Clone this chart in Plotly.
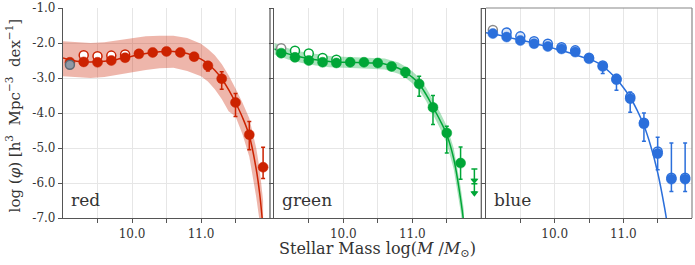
import plotly.graph_objects as go

# ---------------- data ----------------
mass_bins = [9.1, 9.3, 9.5, 9.7, 9.9, 10.1, 10.3, 10.5, 10.7, 10.9, 11.1, 11.3, 11.5, 11.7, 11.9]

# red
red_phi = [-2.55, -2.54, -2.55, -2.50, -2.42, -2.31, -2.27, -2.24, -2.27, -2.39, -2.65, -3.02, -3.70, -4.62, -5.55]
red_err_plus = [0.03, 0.03, 0.03, 0.03, 0.03, 0.03, 0.03, 0.03, 0.04, 0.05, 0.10, 0.20, 0.26, 0.38, 0.57]
red_err_minus = [0.03, 0.03, 0.03, 0.03, 0.03, 0.03, 0.03, 0.03, 0.04, 0.06, 0.15, 0.30, 0.40, 0.43, 0.32]
red_open_x = [9.3, 9.5, 9.7, 9.9]
red_open_phi = [-2.35, -2.38, -2.36, -2.33]
red_fit_x = [9.0, 9.2, 9.4, 9.6, 9.8, 10.0, 10.2, 10.4, 10.6, 10.8, 11.0, 11.1, 11.2, 11.3, 11.4, 11.5, 11.6, 11.7, 11.8, 11.85, 11.9]
red_fit = [-2.43, -2.52, -2.54, -2.52, -2.46, -2.38, -2.30, -2.25, -2.24, -2.30, -2.46, -2.60, -2.78, -3.02, -3.33, -3.70, -4.12, -4.65, -5.60, -6.30, -7.30]
red_fit_hi = [-1.95, -1.98, -2.00, -1.98, -1.93, -1.86, -1.81, -1.79, -1.79, -1.86, -2.02, -2.17, -2.35, -2.60, -2.92, -3.30, -3.70, -4.15, -5.00, -5.60, -6.50]
red_fit_lo = [-2.95, -2.98, -3.00, -2.97, -2.92, -2.84, -2.77, -2.72, -2.71, -2.80, -2.95, -3.10, -3.32, -3.60, -3.95, -4.10, -4.60, -5.25, -6.40, -7.10, -8.20]

# green
green_x = [9.1, 9.3, 9.5, 9.7, 9.9, 10.1, 10.3, 10.5, 10.7, 10.9, 11.1, 11.3, 11.5, 11.7]
green_phi = [-2.29, -2.41, -2.50, -2.55, -2.57, -2.55, -2.55, -2.57, -2.67, -2.83, -3.17, -3.84, -4.57, -5.43]
green_err_plus = [0.02, 0.02, 0.02, 0.02, 0.02, 0.02, 0.02, 0.02, 0.03, 0.06, 0.22, 0.34, 0.19, 0.46]
green_err_minus = [0.02, 0.02, 0.02, 0.02, 0.02, 0.02, 0.02, 0.03, 0.05, 0.15, 0.35, 0.49, 0.57, 0.46]
green_open_x = [9.3, 9.5, 9.7, 9.9]
green_open_phi = [-2.22, -2.30, -2.43, -2.48]
green_limit_x = [11.9, 11.9]
green_limit_top = [-5.60, -6.02]
green_limit_len = [0.30, 0.24]
green_limit_arrow = [-5.93, -6.29]
green_fit_x = [9.0, 9.2, 9.4, 9.6, 9.8, 10.0, 10.2, 10.4, 10.6, 10.8, 10.9, 11.0, 11.1, 11.2, 11.3, 11.4, 11.5, 11.6, 11.7, 11.75]
green_fit = [-2.17, -2.31, -2.41, -2.48, -2.53, -2.55, -2.56, -2.57, -2.60, -2.72, -2.83, -2.98, -3.17, -3.47, -3.83, -4.20, -4.62, -5.30, -6.45, -7.20]
green_fit_hi = [-2.00, -2.15, -2.25, -2.32, -2.37, -2.39, -2.40, -2.41, -2.44, -2.56, -2.67, -2.81, -2.99, -3.28, -3.62, -3.97, -4.37, -5.00, -6.10, -6.80]
green_fit_lo = [-2.33, -2.47, -2.57, -2.64, -2.69, -2.71, -2.72, -2.73, -2.76, -2.88, -2.99, -3.15, -3.35, -3.66, -4.04, -4.43, -4.87, -5.60, -6.80, -7.60]

# blue
blue_phi = [-1.73, -1.83, -1.93, -2.02, -2.10, -2.17, -2.26, -2.45, -2.67, -3.05, -3.59, -4.31, -5.16, -5.89, -5.89]
blue_err_plus = [0.02, 0.02, 0.02, 0.02, 0.02, 0.02, 0.03, 0.03, 0.07, 0.15, 0.19, 0.31, 0.47, 1.03, 1.03]
blue_err_minus = [0.02, 0.02, 0.02, 0.02, 0.02, 0.02, 0.03, 0.04, 0.20, 0.30, 0.39, 0.50, 0.46, 0.35, 0.35]
blue_open_x = [9.3, 9.5, 9.7, 9.9, 10.1, 10.3, 10.5, 10.7, 10.9, 11.1, 11.3, 11.5, 11.7, 11.9]
blue_open_phi = [-1.70, -1.81, -1.95, -2.02, -2.12, -2.21, -2.42, -2.64, -3.02, -3.54, -4.28, -5.10, -5.85, -5.85]
blue_fit_x = [9.0, 9.2, 9.4, 9.6, 9.8, 10.0, 10.2, 10.4, 10.6, 10.7, 10.8, 10.9, 11.0, 11.1, 11.2, 11.3, 11.4, 11.5, 11.6, 11.65]
blue_fit = [-1.71, -1.78, -1.87, -1.96, -2.06, -2.16, -2.27, -2.40, -2.54, -2.66, -2.83, -3.03, -3.27, -3.55, -3.92, -4.36, -4.95, -5.70, -6.70, -7.30]

# grey (excluded) lowest-mass points
grey_x = [9.1]
grey_red = [-2.62]
grey_green = [-2.15]
grey_blue = [-1.63]

panel_names = ["red", "green", "blue"]
y_ticks = [-1, -2, -3, -4, -5, -6, -7]
y_tick_text = ["-1.0", "-2.0", "-3.0", "-4.0", "-5.0", "-6.0", "-7.0"]
x_ticks = [10.0, 11.0]
x_tick_text = ["10.0", "11.0"]
x_minor_ticks = [9.5, 10.5, 11.5]

# ---------------- style ----------------
RED = "#cc2200"
GREEN = "#00a637"
BLUE = "#2b6fdb"
FONT = "DejaVu Serif"
TXT = "#333333"
GRID = "#e6e6e6"
SPINE = "#555555"

fig = go.Figure()


def band(xs, hi, lo, color, ax):
    fig.add_trace(go.Scatter(
        x=xs + xs[::-1], y=hi + lo[::-1], fill="toself", fillcolor=color,
        line=dict(width=0), mode="lines", hoverinfo="skip",
        xaxis="x" + ax, yaxis="y" + ax, showlegend=False))


def line(xs, ys, color, ax):
    fig.add_trace(go.Scatter(
        x=xs, y=ys, mode="lines", line=dict(color=color, width=1.5, shape="spline"),
        xaxis="x" + ax, yaxis="y" + ax, showlegend=False))


def open_pts(xs, ys, color, ax, fill="white"):
    fig.add_trace(go.Scatter(
        x=xs, y=ys, mode="markers",
        marker=dict(size=9, color=fill, line=dict(color=color, width=1.5)),
        xaxis="x" + ax, yaxis="y" + ax, showlegend=False))


def filled_pts(xs, ys, ep, em, color, ax):
    fig.add_trace(go.Scatter(
        x=xs, y=ys, mode="markers",
        marker=dict(size=10, color=color, line=dict(color=color, width=0.5)),
        error_y=dict(type="data", array=ep, arrayminus=em, color=color, thickness=1.5, width=2),
        xaxis="x" + ax, yaxis="y" + ax, showlegend=False))


# red panel
band(red_fit_x, red_fit_hi, red_fit_lo, "rgba(204,34,0,0.33)", "")
line(red_fit_x, red_fit, RED, "")
open_pts(red_open_x, red_open_phi, RED, "")
filled_pts(mass_bins, red_phi, red_err_plus, red_err_minus, RED, "")
open_pts(grey_x, grey_red, "#5f6873", "", fill="#8e98a5")

# green panel
band(green_fit_x, green_fit_hi, green_fit_lo, "rgba(0,166,55,0.33)", "2")
line(green_fit_x, green_fit, GREEN, "2")
open_pts(green_open_x, green_open_phi, GREEN, "2")
open_pts(grey_x, grey_green, "#8a8a8a", "2")
filled_pts(green_x, green_phi, green_err_plus, green_err_minus, GREEN, "2")
fig.add_trace(go.Scatter(
    x=green_limit_x, y=green_limit_top, mode="markers", marker=dict(size=1, color=GREEN, opacity=0),
    error_y=dict(type="data", array=[0, 0], arrayminus=green_limit_len, color=GREEN, thickness=1.5, width=3),
    xaxis="x2", yaxis="y2", showlegend=False))
fig.add_trace(go.Scatter(
    x=green_limit_x, y=green_limit_arrow, mode="markers",
    marker=dict(symbol="triangle-down", size=7, color=GREEN),
    xaxis="x2", yaxis="y2", showlegend=False))

# blue panel
line(blue_fit_x, blue_fit, BLUE, "3")
open_pts(blue_open_x, blue_open_phi, BLUE, "3", fill="#dbe6f8")
open_pts(grey_x, grey_blue, "#8a8a8a", "3")
filled_pts(mass_bins, blue_phi, blue_err_plus, blue_err_minus, BLUE, "3")

# ---------------- axes ----------------
domains = [[0.0, 0.3291], [0.3359, 0.665], [0.6725, 1.0]]
axis_common_x = dict(range=[9.0, 12.0], tickmode="array", tickvals=x_ticks, ticktext=x_tick_text,
                     showgrid=True, gridcolor=GRID, gridwidth=1, zeroline=False,
                     showline=True, linecolor=SPINE, linewidth=1.2,
                     ticks="outside", ticklen=4, tickcolor=SPINE, automargin=False,
                     minor=dict(tickmode="array", tickvals=x_minor_ticks, ticks="outside", ticklen=4,
                                tickcolor=SPINE, showgrid=True, gridcolor=GRID, gridwidth=1),
                     tickfont=dict(family=FONT, size=12, color=TXT))
axis_common_y = dict(range=[-7.0, -1.0], tickvals=y_ticks,
                     showgrid=True, gridcolor=GRID, gridwidth=1, zeroline=False,
                     showline=True, linecolor=SPINE, linewidth=1.2,
                     ticks="outside", ticklen=4, tickcolor=SPINE, automargin=False,
                     tickfont=dict(family=FONT, size=12, color=TXT))

layout = dict(width=695, height=265, margin=dict(l=63, r=3, t=8, b=47),
              paper_bgcolor="white", plot_bgcolor="white", showlegend=False)
for i, d in enumerate(domains):
    sfx = "" if i == 0 else str(i + 1)
    layout["xaxis" + sfx] = dict(axis_common_x, domain=d, anchor="y" + sfx)
    ya = dict(axis_common_y, anchor="x" + sfx, domain=[0, 1])
    if i == 0:
        ya["ticktext"] = y_tick_text
    else:
        ya["showticklabels"] = False
    layout["yaxis" + sfx] = ya
fig.update_layout(**layout)

# extra spines (right of red/green, top+right of blue)
shapes = []
for d in domains[:2]:
    shapes.append(dict(type="line", xref="paper", yref="paper", x0=d[1], x1=d[1], y0=0, y1=1,
                       line=dict(color=SPINE, width=1.2)))
shapes.append(dict(type="line", xref="paper", yref="paper", x0=domains[2][0], x1=1, y0=1, y1=1,
                   line=dict(color="#888888", width=1.2)))
shapes.append(dict(type="line", xref="paper", yref="paper", x0=1, x1=1, y0=0, y1=1,
                   line=dict(color="#888888", width=1.2)))
fig.update_layout(shapes=shapes)

# panel labels
for i, name in enumerate(panel_names):
    sfx = "" if i == 0 else str(i + 1)
    fig.add_annotation(text=name, xref="x" + sfx + " domain", yref="y" + sfx + " domain",
                       x=0.03, y=0.03, xanchor="left", yanchor="bottom", showarrow=False,
                       font=dict(family=FONT, size=17, color=TXT))

# axis titles
fig.add_annotation(text="Stellar Mass log(<i>M</i> /<i>M</i><sub>⊙</sub>)",
                   xref="paper", yref="paper", x=0.5, y=-0.148, xanchor="center", yanchor="middle",
                   showarrow=False, font=dict(family=FONT, size=16, color=TXT))
fig.add_annotation(text="log (<i>φ</i>) [h<sup>3</sup>  Mpc<sup>−3</sup>  dex<sup>−1</sup>]",
                   xref="paper", yref="paper", x=-0.079, y=0.49, xanchor="center", yanchor="middle",
                   textangle=-90, showarrow=False, font=dict(family=FONT, size=15, color=TXT))

fig.write_html("out.html", config={"displayModeBar": False},
               post_script="document.body.style.margin='0px';document.body.style.overflow='hidden';")
